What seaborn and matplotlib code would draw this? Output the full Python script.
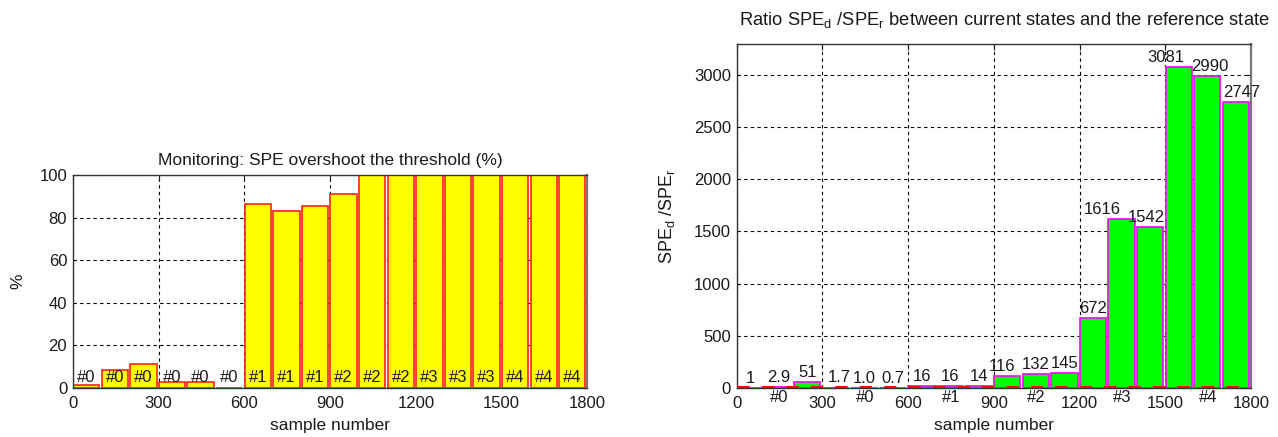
import matplotlib
matplotlib.use("Agg")
import matplotlib.pyplot as plt
import seaborn as sns
from matplotlib.transforms import blended_transform_factory

# 100-sample monitoring windows
window_start = [0, 100, 200, 300, 400, 500, 600, 700, 800, 900,
                1000, 1100, 1200, 1300, 1400, 1500, 1600, 1700]
fault_labels = ["#0", "#0", "#0", "#0", "#0", "#0", "#1", "#1", "#1",
                "#2", "#2", "#2", "#3", "#3", "#3", "#4", "#4", "#4"]

# share of samples whose SPE exceeds the control limit (%)
overshoot_pct = [1.2, 8.3, 11.3, 2.5, 2.5, 0.0, 86.2, 83.1, 85.4,
                 91.2, 100, 100, 100, 100, 100, 100, 100, 100]

# SPE ratio of each window against the reference state
spe_ratio = [1, 2.9, 51, 1.7, 1.0, 0.7, 16, 16, 14,
             116, 132, 145, 672, 1616, 1542, 3081, 2990, 2747]
ratio_labels = ["1", "2.9", "51", "1.7", "1.0", "0.7", "16", "16", "14",
                "116", "132", "145", "672", "1616", "1542", "3081", "2990", "2747"]
ratio_threshold = 8

group_centres = [150, 450, 750, 1050, 1350, 1650]
group_labels = ["#0", "#0", "#1", "#2", "#3", "#4"]
x_ticks = [0, 300, 600, 900, 1200, 1500, 1800]
pct_ticks = [0, 20, 40, 60, 80, 100]
ratio_ticks = [0, 500, 1000, 1500, 2000, 2500, 3000]

sns.set_style("white")
plt.rcParams["font.family"] = ["Liberation Sans", "DejaVu Sans"]
plt.rcParams["mathtext.fontset"] = "custom"
plt.rcParams["mathtext.rm"] = "Liberation Sans"
plt.rcParams["mathtext.it"] = "Liberation Sans:italic"

TEXT_COLOR = "#1a1a1a"
TICK_FS = 12
LABEL_FS = 12.5

fig = plt.figure(figsize=(12.78, 4.37), dpi=100)
ax1 = fig.add_axes([0.0569, 0.1128, 0.4028, 0.4867])
ax2 = fig.add_axes([0.5764, 0.1128, 0.4025, 0.7865])

centres = [s + 47 for s in window_start]


def style_axes(ax, yticks):
    ax.set_axisbelow(True)
    ax.grid(True, color="black", linestyle=(0, (3, 3)), linewidth=0.8)
    ax.set_xticks(x_ticks)
    ax.set_yticks(yticks)
    ax.tick_params(direction="in", length=4, width=0.8, top=True, right=True,
                   labelsize=TICK_FS, pad=4, colors=TEXT_COLOR)
    ax.tick_params(axis="x", pad=6)
    for sp in ax.spines.values():
        sp.set_visible(True)
        sp.set_color("#333333")
        sp.set_linewidth(1.0)
    ax.spines["right"].set_color("#777777")
    ax.spines["right"].set_linewidth(1.6)


# left panel: SPE overshoot percentage
sns.barplot(x=centres, y=overshoot_pct, native_scale=True, width=0.92,
            color="#FFFF00", saturation=1, edgecolor="#FF2020", linewidth=1.2,
            errorbar=None, ax=ax1)
ax1.set_xlim(0, 1800)
ax1.set_ylim(0, 100)
style_axes(ax1, pct_ticks)
ax1.set_xticklabels([str(t) for t in x_ticks])
ax1.set_yticklabels([str(t) for t in pct_ticks])
for c, lab in zip(centres, fault_labels):
    ax1.text(c, 5.0, lab, ha="center", va="center", fontsize=TICK_FS, color=TEXT_COLOR)
ax1.set_title("Monitoring: SPE overshoot the threshold (%)", fontsize=12.5,
              pad=7, color=TEXT_COLOR)
ax1.set_xlabel("sample number", fontsize=LABEL_FS, labelpad=5, color=TEXT_COLOR)
ax1.set_ylabel("%", fontsize=LABEL_FS, labelpad=10, color=TEXT_COLOR)

# right panel: SPE ratio against the reference
sns.barplot(x=centres, y=spe_ratio, native_scale=True, width=0.92,
            color="#00FF00", saturation=1, edgecolor="#FF00FF", linewidth=1.2,
            errorbar=None, ax=ax2)
ax2.set_xlim(0, 1800)
ax2.set_ylim(0, 3300)
style_axes(ax2, ratio_ticks)
ax2.set_xticklabels([str(t) for t in x_ticks])
ax2.set_yticklabels([str(t) for t in ratio_ticks])
ax2.axhline(ratio_threshold, color="#FF0000", linewidth=2.2,
            linestyle=(0, (4, 4)), zorder=3)

# horizontal nudges (points) that keep crowded value labels apart
label_nudge = {3: 2.5, 9: -3.5, 13: -14, 14: -2.5, 15: -9, 16: 2, 17: 4}
for i, (c, v, lab) in enumerate(zip(centres, spe_ratio, ratio_labels)):
    ax2.annotate(lab, (c, v), xytext=(label_nudge.get(i, 0), 1.5),
                 textcoords="offset points", ha="center", va="bottom",
                 fontsize=TICK_FS, color=TEXT_COLOR)
trans = blended_transform_factory(ax2.transData, ax2.transAxes)
for c, lab in zip(group_centres, group_labels):
    ax2.text(c, -0.006, lab, transform=trans, ha="center", va="top",
             fontsize=TICK_FS, color=TEXT_COLOR)
ax2.set_title("Ratio SPE$_\\mathrm{d}$ /SPE$_\\mathrm{r}$ between current states and the reference state",
              fontsize=13.2, pad=14, color=TEXT_COLOR, x=0.52)
ax2.set_xlabel("sample number", fontsize=LABEL_FS, labelpad=5, color=TEXT_COLOR)
ax2.set_ylabel("SPE$_\\mathrm{d}$ /SPE$_\\mathrm{r}$", fontsize=13, labelpad=12,
               color=TEXT_COLOR)

fig.savefig("out.png", dpi=100)
